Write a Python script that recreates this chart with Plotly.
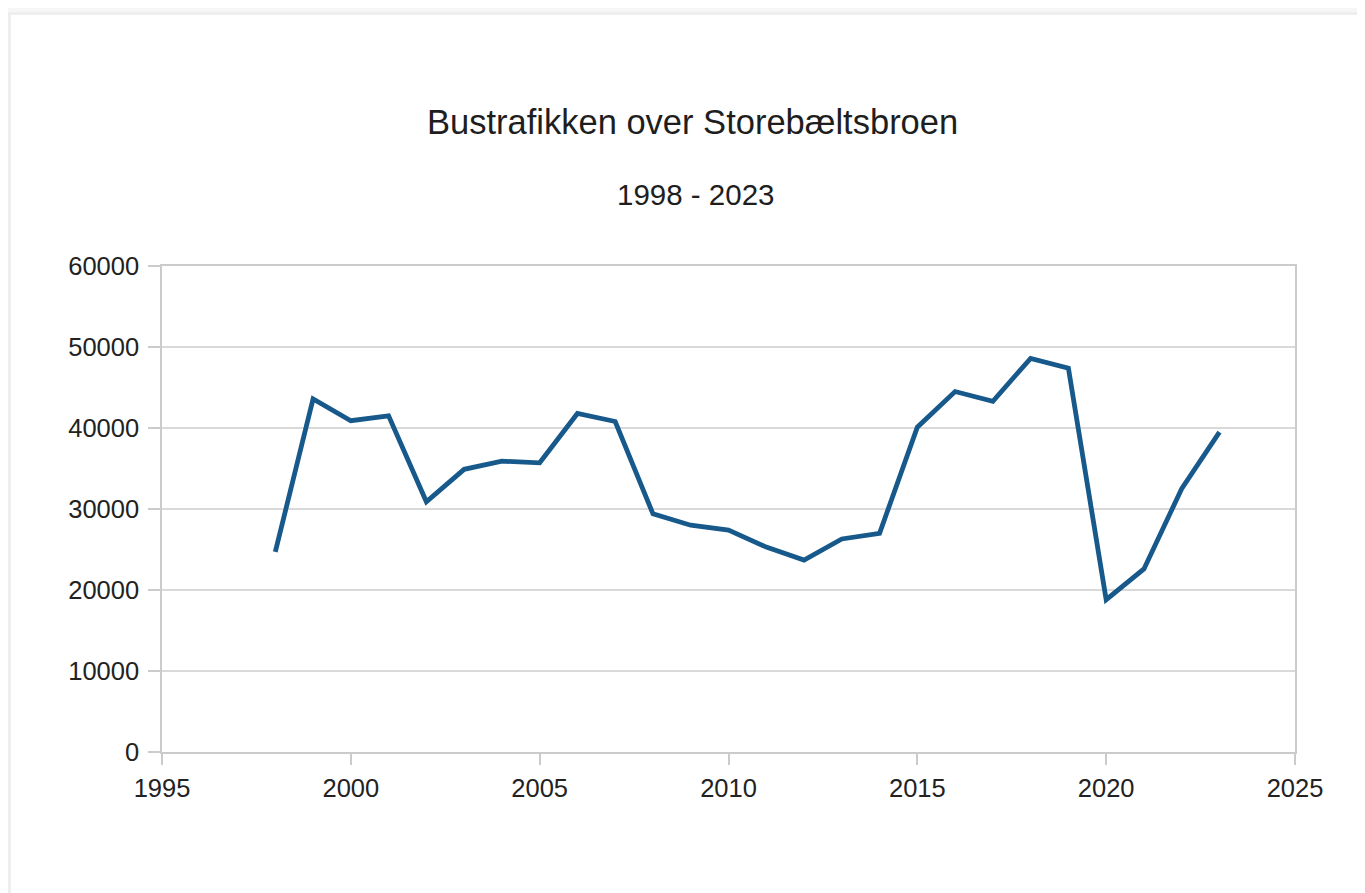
import plotly.graph_objects as go

years = list(range(1998, 2024))
buses = [24700, 43600, 40900, 41500, 30900, 34900, 35900, 35700, 41800, 40800,
         29400, 28000, 27400, 25300, 23700, 26300, 27000, 40100, 44500, 43300,
         48600, 47400, 18800, 22600, 32500, 39500]

title_text = "Bustrafikken over Storebæltsbroen"
subtitle_text = "1998 - 2023"
x_ticks = [1995, 2000, 2005, 2010, 2015, 2020, 2025]
y_ticks = [0, 10000, 20000, 30000, 40000, 50000, 60000]

W, H = 1365, 893
OFF = 8  # default body margin of the page
L, T = 162 - OFF, 266 - OFF
PW, PH = 1133, 486
R, B = W - L - PW, H - T - PH

def px(x):
    return (x - OFF - L) / PW

def py(y):
    return (T + PH - (y - OFF)) / PH

fig = go.Figure()
fig.add_trace(go.Scatter(
    x=years, y=buses, mode="lines",
    line=dict(color="#17598b", width=4.8),
    showlegend=False, hoverinfo="x+y",
))

font_family = "Liberation Sans, Arial, sans-serif"
axis_common = dict(
    showline=True, linecolor="#cbcbcb", linewidth=1.5, mirror=True,
    gridcolor="#d9d9d9", gridwidth=1.5,
    ticks="outside", tickcolor="#cbcbcb", tickwidth=1.5,
    zeroline=False,
    tickfont=dict(family=font_family, size=25.5, color="#222222"),
)

fig.update_layout(
    width=W, height=H,
    margin=dict(l=L, r=R, t=T, b=B, autoexpand=False),
    paper_bgcolor="#f6f6f6",
    plot_bgcolor="rgba(0,0,0,0)",
    xaxis=dict(range=[1995, 2025], tickvals=x_ticks, ticklen=11, showgrid=False,
               ticklabelstandoff=2, **axis_common),
    yaxis=dict(range=[0, 60000], tickvals=y_ticks, ticklen=12, tickformat="d",
               showgrid=True, ticklabelstandoff=4, **axis_common),
    shapes=[
        dict(type="rect", xref="paper", yref="paper", layer="below",
             x0=px(8), x1=px(W + 50), y0=py(H + 50), y1=py(12),
             fillcolor="#eeeeee", line=dict(width=0)),
        dict(type="rect", xref="paper", yref="paper", layer="below",
             x0=px(11), x1=px(W + 50), y0=py(H + 50), y1=py(15),
             fillcolor="#ffffff", line=dict(width=0)),
    ],
    annotations=[
        dict(text=title_text, xref="paper", yref="paper", x=px(692), y=py(122),
             xanchor="center", yanchor="middle", showarrow=False,
             font=dict(family=font_family, size=34.5, color="#1e1e1e")),
        dict(text=subtitle_text, xref="paper", yref="paper", x=px(695), y=py(195),
             xanchor="center", yanchor="middle", showarrow=False,
             font=dict(family=font_family, size=29.5, color="#1e1e1e")),
    ],
)

fig.write_html("out.html")
